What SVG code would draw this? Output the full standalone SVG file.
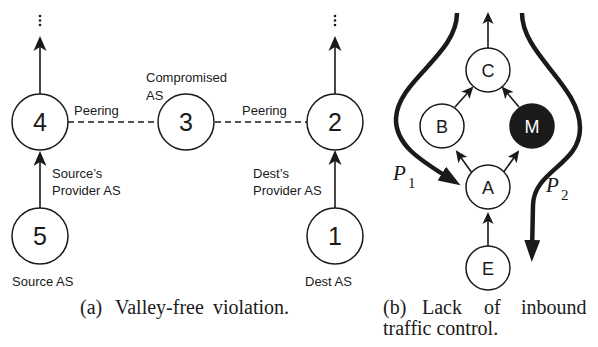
<svg xmlns="http://www.w3.org/2000/svg" width="598" height="347" viewBox="0 0 598 347">
<style>
.n{fill:#fff;stroke:#1a1a1a;stroke-width:1.5}
.num{font-family:"Liberation Sans",Arial,sans-serif;font-size:25px;fill:#1a1a1a;text-anchor:middle}
.let{font-family:"Liberation Sans",Arial,sans-serif;font-size:18px;fill:#1a1a1a;text-anchor:middle}
.lbl{font-family:"Liberation Sans",Arial,sans-serif;font-size:13px;fill:#1a1a1a}
.cap{font-family:"Liberation Serif","Times New Roman",serif;font-size:20px;fill:#1a1a1a}
.pl{font-family:"Liberation Serif","Times New Roman",serif;font-style:italic;font-size:21px;fill:#1a1a1a}
.ps{font-family:"Liberation Serif","Times New Roman",serif;font-size:15px;fill:#1a1a1a}
.e{stroke:#1a1a1a;stroke-width:1.6;fill:none}
.d{stroke:#1a1a1a;stroke-width:1.6;fill:none;stroke-dasharray:6 4}
.t{stroke:#1a1a1a;stroke-width:4.5;fill:none}
</style>
<defs>
<marker id="ah" markerUnits="userSpaceOnUse" viewBox="-16 -8 18 16" markerWidth="18" markerHeight="16" refX="-2" refY="0" orient="auto">
<path d="M0,0 L-15,-6.5 L-11,0 L-15,6.5 Z" fill="#1a1a1a"/>
</marker>
<marker id="as" markerUnits="userSpaceOnUse" viewBox="-14 -7 16 14" markerWidth="16" markerHeight="14" refX="-2" refY="0" orient="auto">
<path d="M0,0 L-12,-5.5 L-9,0 L-12,5.5 Z" fill="#1a1a1a"/>
</marker>
<marker id="at" markerUnits="userSpaceOnUse" viewBox="-22 -10 24 20" markerWidth="24" markerHeight="20" refX="-10" refY="0" orient="auto">
<path d="M0,0 L-22,-8 L-22,8 Z" fill="#1a1a1a"/>
</marker>
</defs>

<g id="connectors">
<line class="e" x1="40" y1="94" x2="40" y2="38" marker-end="url(#ah)"/>
<line class="e" x1="40" y1="208" x2="40" y2="153" marker-end="url(#ah)"/>
<line class="e" x1="335" y1="94" x2="335" y2="38" marker-end="url(#ah)"/>
<line class="e" x1="335" y1="208" x2="335" y2="152" marker-end="url(#ah)"/>
<line class="d" x1="68" y1="122" x2="158" y2="122"/>
<line class="d" x1="215" y1="122" x2="307" y2="122"/>
<g fill="#1a1a1a">
<circle cx="40" cy="16" r="1.3"/><circle cx="40" cy="20.5" r="1.3"/><circle cx="40" cy="25" r="1.3"/>
<circle cx="335" cy="16" r="1.3"/><circle cx="335" cy="20.5" r="1.3"/><circle cx="335" cy="25" r="1.3"/>
</g>
<line class="e" x1="488" y1="48" x2="488" y2="14" marker-end="url(#as)"/>
<line class="e" x1="455" y1="107" x2="472" y2="88" marker-end="url(#as)"/>
<line class="e" x1="519" y1="107" x2="503" y2="88" marker-end="url(#as)"/>
<line class="e" x1="472" y1="173" x2="457" y2="152" marker-end="url(#as)"/>
<line class="e" x1="503" y1="173" x2="518" y2="152" marker-end="url(#as)"/>
<line class="e" x1="488" y1="246" x2="488" y2="214" marker-end="url(#as)"/>
<path class="t" d="M457,13 C457,55 398,80 396,118 C395,145 420,160 452,180" marker-end="url(#at)"/>
<path class="t" d="M522,13 C522,55 580,85 580,128 C580,165 534,170 533,205 L532,252" marker-end="url(#at)"/>
</g>

<g id="n4"><circle class="n" cx="40" cy="122" r="28"/><text class="num" x="40" y="131">4</text></g>
<g id="n3"><circle class="n" cx="186" cy="122" r="28"/><text class="num" x="186" y="131">3</text></g>
<g id="n2"><circle class="n" cx="335" cy="122" r="28"/><text class="num" x="335" y="131">2</text></g>
<g id="n5"><circle class="n" cx="40" cy="236" r="28"/><text class="num" x="40" y="245">5</text></g>
<g id="n1"><circle class="n" cx="335" cy="236" r="28"/><text class="num" x="335" y="245">1</text></g>

<g id="labels-left">
<text class="lbl" x="74" y="115">Peering</text>
<text class="lbl" x="242" y="115">Peering</text>
<text class="lbl" x="146" y="82">Compromised</text>
<text class="lbl" x="146" y="100">AS</text>
<text class="lbl" x="52" y="178">Source’s</text>
<text class="lbl" x="52" y="195">Provider AS</text>
<text class="lbl" x="253" y="178">Dest’s</text>
<text class="lbl" x="253" y="195">Provider AS</text>
<text class="lbl" x="12" y="286">Source AS</text>
<text class="lbl" x="305" y="286">Dest AS</text>
</g>

<g id="nC"><circle class="n" cx="488" cy="70" r="22"/><text class="let" x="488" y="76.5">C</text></g>
<g id="nB"><circle class="n" cx="442" cy="126" r="22"/><text class="let" x="442" y="132.5">B</text></g>
<g id="nM"><circle cx="532" cy="126" r="22" fill="#1a1a1a" stroke="#1a1a1a" stroke-width="1.5"/><text class="let" x="532" y="132.5" style="fill:#fff">M</text></g>
<g id="nA"><circle class="n" cx="488" cy="187" r="22"/><text class="let" x="488" y="193.5">A</text></g>
<g id="nE"><circle class="n" cx="488" cy="268" r="22"/><text class="let" x="488" y="274.5">E</text></g>

<g id="labels-right">
<text class="pl" x="393" y="180">P</text><text class="ps" x="408" y="188">1</text>
<text class="pl" x="546" y="192">P</text><text class="ps" x="561" y="200">2</text>
</g>

<g id="captions">
<text class="cap" y="314"><tspan x="80">(a)</tspan><tspan x="115">Valley-free</tspan><tspan x="213">violation.</tspan></text>
<text class="cap" y="314"><tspan x="383">(b)</tspan><tspan x="422">Lack</tspan><tspan x="484">of</tspan><tspan x="521">inbound</tspan></text>
<text class="cap" x="383" y="335">traffic control.</text>
</g>
</svg>
